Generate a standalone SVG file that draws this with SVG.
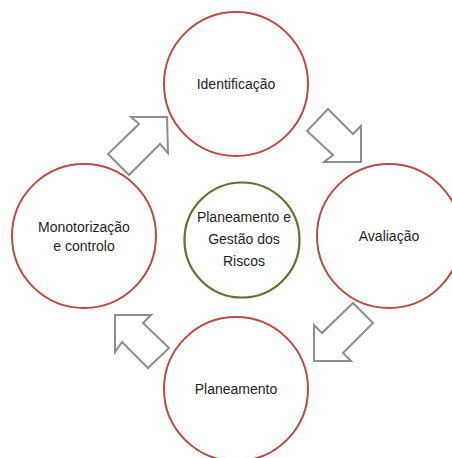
<svg xmlns="http://www.w3.org/2000/svg" width="452" height="458" viewBox="0 0 452 458">
  <style>
    .stage { fill: #ffffff; stroke: #b94a48; stroke-width: 2; }
    .core { fill: #ffffff; stroke: #5e7432; stroke-width: 2.2; }
    .label { font-family: "Liberation Sans", Arial, sans-serif; font-size: 14px; fill: #1e1e1e; text-anchor: middle; }
    .flow { fill: #ffffff; stroke: #8e8e8e; stroke-width: 2; stroke-linejoin: miter; }
  </style>
  <rect x="0" y="0" width="452" height="458" fill="#ffffff"/>

  <!-- block arrows between the stages -->
  <g id="connectors">
    <polygon class="flow" points="131,117 167,117 168,153 160,144 129,175 108,154 139,124"/>
    <polygon class="flow" points="328,109 307,131 333,155 324,162 361,162 361,126 353,134"/>
    <polygon class="flow" points="353,303 373,323 343,353 351,361 314,361 314,325 322,333"/>
    <polygon class="flow" points="115,315 151,315 143,323 169,348 148,368 122,342 115,352"/>
  </g>

  <g id="identificacao">
    <circle class="stage" cx="236" cy="84" r="72"/>
    <text class="label" x="236" y="89">Identificação</text>
  </g>

  <g id="avaliacao">
    <circle class="stage" cx="389" cy="236" r="72"/>
    <text class="label" x="389" y="241">Avaliação</text>
  </g>

  <g id="planeamento">
    <circle class="stage" cx="236" cy="389" r="72"/>
    <text class="label" x="236" y="394">Planeamento</text>
  </g>

  <g id="monitorizacao">
    <circle class="stage" cx="84" cy="236" r="72"/>
    <text class="label" x="84" y="232">Monotorização</text>
    <text class="label" x="84" y="251">e controlo</text>
  </g>

  <g id="nucleo">
    <circle class="core" cx="242" cy="240" r="57.5"/>
    <text class="label" x="244" y="222">Planeamento e</text>
    <text class="label" x="244" y="244">Gestão dos</text>
    <text class="label" x="244" y="266">Riscos</text>
  </g>
</svg>
